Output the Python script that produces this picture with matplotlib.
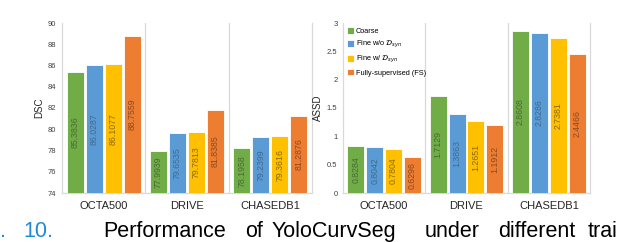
import matplotlib
matplotlib.use("Agg")
import matplotlib.pyplot as plt
import numpy as np

plt.rcParams['font.family'] = ['Liberation Sans', 'DejaVu Sans']

categories = ["OCTA500", "DRIVE", "CHASEDB1"]
series_names = ["Coarse", r"Fine w/o $\mathcal{D}_{syn}$", r"Fine w/ $\mathcal{D}_{syn}$", "Fully-supervised (FS)"]
dsc = [
    [85.3836, 77.9939, 78.1958],
    [86.0287, 79.6535, 79.2399],
    [86.1077, 79.7813, 79.3616],
    [88.7559, 81.8385, 81.2876],
]
assd = [
    [0.8284, 1.7129, 2.8608],
    [0.8042, 1.3863, 2.8286],
    [0.7804, 1.2651, 2.7381],
    [0.6296, 1.1912, 2.4466],
]
dsc_ticks = [74, 76, 78, 80, 82, 84, 86, 88, 90]
assd_ticks = [0, 0.5, 1, 1.5, 2, 2.5, 3]
assd_ticklabels = ["0", "0.5", "1", "1.5", "2", "2.5", "3"]

colors = ["#70AD47", "#5B9BD5", "#FFC000", "#ED7D31"]
text_colors = ["#4a6a35", "#3f6a90", "#8a6a10", "#8a4a20"]
grid_c = "#d9d9d9"

fig = plt.figure(figsize=(6.26, 2.42), dpi=100)
ax1 = fig.add_axes([62/626, 1-193/242, 250/626, 170/242])
ax2 = fig.add_axes([343/626, 1-193/242, 247/626, 170/242])

step = 0.229
width = 0.205


def draw(ax, data, ymin, ymax, ticks, ticklabels, ylabel):
    x = np.arange(len(categories)) + 0.5
    for i, vals in enumerate(data):
        xs = x + (i - 1.5) * step
        h = np.array(vals) - ymin
        ax.bar(xs, h, width=width, bottom=ymin, color=colors[i],
               edgecolor="white", linewidth=0.6, label=series_names[i], zorder=3)
        for xi, v in zip(xs, vals):
            ax.text(xi, (ymin + v) / 2, f"{v}",
                    rotation=90, ha="center", va="center", fontsize=6.3,
                    color=text_colors[i], zorder=4)
    ax.set_xlim(0, 3)
    ax.set_ylim(ymin, ymax)
    ax.set_yticks(ticks)
    ax.set_yticklabels(ticklabels, fontsize=5.5, color="#404040")
    ax.set_xticks(x)
    ax.set_xticklabels(categories, fontsize=8, color="#262626")
    ax.tick_params(axis="both", length=0)
    ax.tick_params(axis="x", pad=6)
    ax.tick_params(axis="y", pad=4)
    ax.spines["top"].set_visible(False)
    for s in ["left", "right", "bottom"]:
        ax.spines[s].set_color(grid_c)
        ax.spines[s].set_linewidth(0.9)
    for b in [1, 2]:
        ax.axvline(b, color=grid_c, linewidth=0.9, zorder=1)
    ax.set_ylabel(ylabel, fontsize=7, color="#262626", labelpad=3)


draw(ax1, dsc, 74, 90, dsc_ticks, [str(t) for t in dsc_ticks], "DSC")
draw(ax2, assd, 0, 3, assd_ticks, assd_ticklabels, "ASSD")

leg = ax2.legend(loc="upper left", bbox_to_anchor=(0.0, 1.0), frameon=False,
                 fontsize=5.3, handlelength=1.0, handleheight=1.0,
                 handletextpad=0.2, labelspacing=0.5, borderaxespad=0.15)

# caption fragments
cap_y = 1 - 237/242
fs = 15.5
fig.text(0/626, cap_y, ".", fontsize=fs, color="#1f8bd6", va="baseline")
fig.text(23/626, cap_y, "10.", fontsize=fs, color="#1f8bd6", va="baseline")
words = [("Performance", 103), ("of", 245), ("YoloCurvSeg", 272),
         ("under", 425), ("different", 498), ("trai", 588)]
for w, xp in words:
    fig.text(xp/626, cap_y, w, fontsize=fs, color="black", va="baseline")

fig.savefig("out.png", dpi=100)
